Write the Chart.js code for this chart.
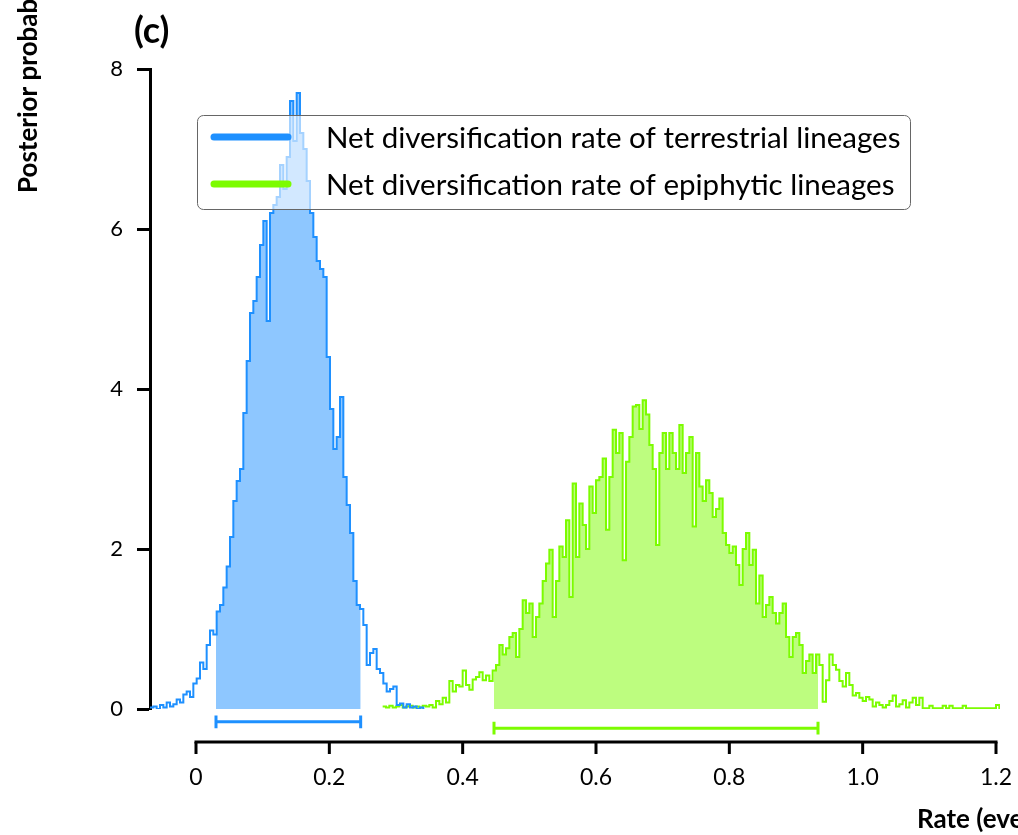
<!DOCTYPE html>
<html><head><meta charset="utf-8">
<script src="https://cdn.jsdelivr.net/npm/chart.js@4"></script>
<style>html,body{margin:0;padding:0;background:#fff}#wrap{width:1018px;height:835px;position:relative}</style>
</head><body><div id="wrap"><canvas id="c" width="1018" height="835"></canvas></div>
<script>
const seriesLabels = ['Net diversification rate of terrestrial lineages', 'Net diversification rate of epiphytic lineages'];
const binWidth = 0.005;
const terrestrialStart = -0.069;
const terrestrialDensity = [0.02,0.03,0.0,0.05,0.02,0.08,0.03,0.06,0.12,0.08,
  0.18,0.22,0.15,0.32,0.38,0.58,0.5,0.8,0.98,0.93,
  1.22,1.3,1.52,1.78,2.15,2.6,2.85,3.0,3.7,4.35,
  4.95,5.1,5.4,5.8,6.1,4.85,6.2,6.3,6.4,6.8,
  6.5,6.9,7.6,7.1,7.7,7.2,7.0,6.6,6.2,5.9,
  5.6,5.5,5.4,4.4,3.75,3.25,3.4,3.9,2.9,2.55,
  2.2,1.6,1.3,1.25,1.05,0.55,0.7,0.75,0.5,0.45,
  0.32,0.22,0.25,0.28,0.05,0.07,0.02,0.06,0.02,0.03,
  0.0,0.02];
const epiphyticStart = 0.280;
const epiphyticDensity = [0.03,0.02,0.04,0.02,0.03,0.05,0.02,0.03,0.04,0.02,
  0.03,0.02,0.04,0.03,0.05,0.02,0.1,0.06,0.14,0.08,
  0.35,0.22,0.3,0.28,0.48,0.3,0.24,0.37,0.4,0.46,
  0.36,0.42,0.35,0.48,0.55,0.8,0.68,0.76,0.9,0.95,
  0.65,1.0,1.36,1.2,1.32,0.9,1.15,1.32,1.6,1.82,
  1.99,1.15,1.6,2.03,1.9,2.36,1.4,2.82,1.9,2.57,
  2.3,2.0,2.78,2.45,2.86,2.9,3.13,2.24,2.9,3.49,
  3.2,3.45,1.86,3.09,3.4,3.78,3.8,3.5,3.86,3.68,
  3.3,3.0,2.05,3.2,3.45,3.0,3.45,3.2,3.0,3.55,
  2.95,3.2,3.4,2.28,3.2,2.78,2.6,2.86,2.7,2.4,
  2.5,2.63,2.2,2.05,1.95,2.03,1.8,1.55,2.0,2.2,
  1.8,1.99,1.32,1.67,1.15,1.3,1.4,1.2,1.07,1.2,
  1.32,0.9,0.65,0.9,0.95,0.8,0.45,0.6,0.68,0.45,
  0.68,0.55,0.09,0.36,0.68,0.55,0.49,0.35,0.28,0.45,
  0.3,0.17,0.2,0.14,0.1,0.15,0.12,0.03,0.08,0.05,
  0.02,0.05,0.1,0.17,0.03,0.06,0.11,0.02,0.08,0.14,
  0.05,0.14,0.01,0.01,0.04,0.01,0.01,0.01,0.04,0.01,
  0.04,0.01,0.01,0.01,0.04,0.01,0.01,0.01,0.01,0.01,
  0.01,0.01,0.01,0.01,0.05];
const terrestrialHPD = [0.030, 0.247];
const epiphyticHPD = [0.447, 0.933];
const xTickValues = [0, 0.2, 0.4, 0.6, 0.8, 1.0, 1.2];
const xTickLabels = ['0', '0.2', '0.4', '0.6', '0.8', '1.0', '1.2'];
const yTickValues = [0, 2, 4, 6, 8];
const yTickLabels = ['0', '2', '4', '6', '8'];

const BLUE = '#1E90FF', GREEN = '#7CFC00';
const BLUE_FILL = 'rgba(30,144,255,0.5)', GREEN_FILL = 'rgba(124,252,0,0.5)';
const FONT = 'Lato, "Open Sans", sans-serif';
const CAP = 0.08; // half-height of interval end caps (y units)

function stepPoints(start, vals) {
  const pts = vals.map((v, i) => ({x: start + i * binWidth, y: v}));
  pts.push({x: start + vals.length * binWidth, y: 0});
  return pts;
}
function hpdPoints(start, vals, hpd) {
  const pts = [];
  const i0 = Math.floor((hpd[0] - start) / binWidth);
  pts.push({x: hpd[0], y: vals[i0]});
  for (let i = i0 + 1; i < vals.length; i++) {
    const e = start + i * binWidth;
    if (e >= hpd[1]) break;
    pts.push({x: e, y: vals[i]});
  }
  pts.push({x: hpd[1], y: 0});
  return pts;
}
function intervalPath(hpd, yLevel) {
  return [
    {x: hpd[0], y: yLevel + CAP}, {x: hpd[0], y: yLevel - CAP}, {x: hpd[0], y: yLevel},
    {x: hpd[1], y: yLevel}, {x: hpd[1], y: yLevel + CAP}, {x: hpd[1], y: yLevel - CAP}
  ];
}

const lineStyle = {pointRadius: 0, borderWidth: 2, fill: false, stepped: true, tension: 0};
const intervalStyle = {borderWidth: 3, pointRadius: 0, clip: false, fill: false, tension: 0,
  borderCapStyle: 'butt', borderJoinStyle: 'miter', order: 1};
const datasets = [
  {label: seriesLabels[0] + ' HPD', data: hpdPoints(terrestrialStart, terrestrialDensity, terrestrialHPD),
   backgroundColor: BLUE_FILL, borderWidth: 0, fill: 'origin', pointRadius: 0, stepped: true, order: 10},
  {label: seriesLabels[1] + ' HPD', data: hpdPoints(epiphyticStart, epiphyticDensity, epiphyticHPD),
   backgroundColor: GREEN_FILL, borderWidth: 0, fill: 'origin', pointRadius: 0, stepped: true, order: 10},
  Object.assign({label: seriesLabels[1], data: stepPoints(epiphyticStart, epiphyticDensity), borderColor: GREEN, order: 6}, lineStyle),
  Object.assign({label: seriesLabels[0], data: stepPoints(terrestrialStart, terrestrialDensity), borderColor: BLUE, order: 5}, lineStyle),
  Object.assign({label: 'HPD terrestrial', data: intervalPath(terrestrialHPD, -0.16), borderColor: BLUE}, intervalStyle),
  Object.assign({label: 'HPD epiphytic', data: intervalPath(epiphyticHPD, -0.24), borderColor: GREEN}, intervalStyle)
];

const decor = {
  id: 'decor',
  afterDatasetsDraw(chart) {
    const ctx = chart.ctx;
    ctx.save();
    ctx.beginPath();
    ctx.roundRect(197.5, 115.5, 713, 94, 6);
    ctx.fillStyle = 'rgba(255,255,255,0.6)';
    ctx.fill();
    ctx.strokeStyle = '#666';
    ctx.lineWidth = 1;
    ctx.stroke();
    const entries = [[seriesLabels[0], BLUE, 137], [seriesLabels[1], GREEN, 184]];
    ctx.font = '26px ' + FONT;
    const w = ctx.measureText(seriesLabels[0]).width;
    const fs = 26 * 574 / w;
    entries.forEach(([t, c, y]) => {
      ctx.beginPath();
      ctx.moveTo(214, y); ctx.lineTo(288, y);
      ctx.strokeStyle = c; ctx.lineWidth = 7; ctx.lineCap = 'round';
      ctx.stroke();
      ctx.fillStyle = '#000';
      ctx.font = fs.toFixed(1) + 'px ' + FONT;
      ctx.textAlign = 'left'; ctx.textBaseline = 'middle';
      ctx.fillText(t, 326, y + 1);
    });
    ctx.restore();
  },
  afterDraw(chart) {
    const ctx = chart.ctx, xs = chart.scales.x;
    ctx.save();
    const yA = 742;
    ctx.strokeStyle = '#000'; ctx.lineWidth = 3; ctx.lineCap = 'butt';
    ctx.beginPath();
    ctx.moveTo(xs.getPixelForValue(xTickValues[0]) - 1.5, yA);
    ctx.lineTo(xs.getPixelForValue(xTickValues[xTickValues.length - 1]) + 1.5, yA);
    ctx.stroke();
    xTickValues.forEach(v => {
      const p = xs.getPixelForValue(v);
      ctx.beginPath(); ctx.moveTo(p, yA); ctx.lineTo(p, yA + 12); ctx.stroke();
    });
    ctx.fillStyle = '#000';
    ctx.font = 'bold 36px ' + FONT;
    ctx.textAlign = 'left'; ctx.textBaseline = 'middle';
    ctx.fillText('(c)', 134, 31);
    ctx.font = 'bold 26px ' + FONT;
    ctx.textBaseline = 'alphabetic';
    ctx.fillText('Rate (events/Myr)', 917, 828);
    ctx.translate(37, 193);
    ctx.rotate(-Math.PI / 2);
    ctx.fillText('Posterior probability density', 0, 0);
    ctx.restore();
  }
};

new Chart(document.getElementById('c'), {
  type: 'line',
  data: {datasets},
  options: {
    responsive: false, animation: false,
    layout: {padding: {left: 0, top: 69, right: 18, bottom: 0}},
    plugins: {legend: {display: false}, tooltip: {enabled: false}},
    scales: {
      x: {
        type: 'linear', min: -0.069, max: 1.206,
        afterBuildTicks: s => { s.ticks = xTickValues.map(v => ({value: v})); },
        afterFit: s => { s.height = 126; },
        grid: {display: true, drawOnChartArea: false, drawTicks: true, tickLength: 52, tickColor: 'rgba(0,0,0,0)'},
        border: {display: false},
        ticks: {callback: (v, i) => xTickLabels[i], font: {family: FONT, size: 23}, color: '#000',
                padding: 3, maxRotation: 0, autoSkip: false}
      },
      y: {
        min: 0, max: 8,
        afterBuildTicks: s => { s.ticks = yTickValues.map(v => ({value: v})); },
        afterFit: s => { s.width = 150; },
        grid: {drawOnChartArea: false, drawTicks: true, tickLength: 13, tickWidth: 3, tickColor: '#000'},
        border: {display: true, color: '#000', width: 3},
        ticks: {callback: (v, i) => yTickLabels[i], font: {family: FONT, size: 22}, color: '#000', padding: 14}
      }
    }
  },
  plugins: [decor]
});
</script></body></html>
